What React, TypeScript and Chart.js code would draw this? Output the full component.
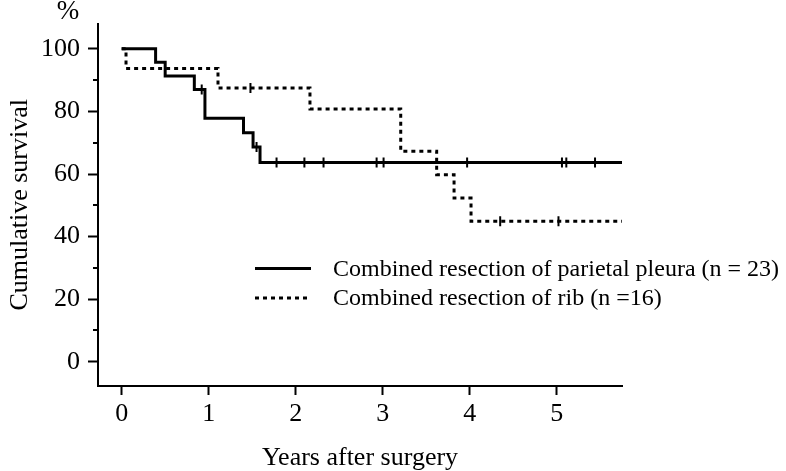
import React, { useEffect, useRef } from 'react';
import { Chart, registerables } from 'chart.js';

Chart.register(...registerables);

// ---- data ----
const xTickValues = [0, 1, 2, 3, 4, 5];
const yTickValues = [0, 20, 40, 60, 80, 100];
const yMinorTickValues = [10, 30, 50, 70, 90];

const legendLabels = [
  'Combined resection of parietal pleura (n = 23)',
  'Combined resection of rib (n =16)',
];

// Kaplan-Meier steps: parietal pleura
const pleuraTimes = [0, 0.39, 0.5, 0.835, 0.957, 1.4, 1.51, 1.59, 5.75];
const pleuraSurvival = [100, 95.7, 91.3, 87.0, 77.8, 73.2, 68.6, 63.7, 63.7];
const pleuraCensorTimes = [0.92, 1.55, 1.78, 2.1, 2.32, 2.93, 3.01, 3.97, 5.06, 5.11, 5.44];

// Kaplan-Meier steps: rib
const ribTimes = [0, 0.05, 1.107, 2.164, 3.207, 3.62, 3.82, 4.015, 5.75];
const ribSurvival = [100, 93.75, 87.5, 80.8, 67.3, 59.8, 52.3, 44.9, 44.9];
const ribCensorTimes = [1.48, 4.35, 5.02];

const FONT = '"Liberation Serif", "Times New Roman", serif';

function survivalAt(times: number[], surv: number[], t: number): number {
  let v = surv[0];
  for (let i = 0; i < times.length; i++) {
    if (times[i] <= t) v = surv[i];
  }
  return v;
}

function toPoints(xs: number[], ys: number[]) {
  return xs.map((x, i) => ({ x, y: ys[i] }));
}

const decorPlugin = {
  id: 'decor',
  afterDraw(chart: any) {
    const ctx = chart.ctx as CanvasRenderingContext2D;
    const yScale = chart.scales.y;
    ctx.save();
    // minor y ticks
    ctx.strokeStyle = '#000';
    ctx.lineWidth = 2;
    yMinorTickValues.forEach((v) => {
      const py = Math.round(yScale.getPixelForValue(v));
      ctx.beginPath();
      ctx.moveTo(yScale.right - 5, py);
      ctx.lineTo(yScale.right, py);
      ctx.stroke();
    });
    // percent sign
    ctx.fillStyle = '#000';
    ctx.font = `27px ${FONT}`;
    ctx.textAlign = 'center';
    ctx.textBaseline = 'alphabetic';
    ctx.fillText('%', 68, 19);

    // legend
    const rows = [268.5, 298];
    const lineX0 = 255;
    const lineX1 = 311;
    const textX = 333;
    ctx.font = `24px ${FONT}`;
    ctx.textAlign = 'left';
    ctx.textBaseline = 'middle';
    legendLabels.forEach((label, i) => {
      const y = rows[i];
      ctx.beginPath();
      ctx.lineWidth = 3;
      ctx.lineCap = 'butt';
      ctx.setLineDash(i === 0 ? [] : [4, 4]);
      ctx.moveTo(lineX0, y);
      ctx.lineTo(lineX1, y);
      ctx.stroke();
      ctx.setLineDash([]);
      ctx.fillText(label, textX, y + 1);
    });
    ctx.restore();
  },
};

export default function App() {
  const canvasRef = useRef<HTMLCanvasElement | null>(null);

  useEffect(() => {
    document.body.style.margin = '0';
    const canvas = canvasRef.current;
    if (!canvas) return;

    const pleuraCensor = pleuraCensorTimes.map((t) => ({
      x: t,
      y: survivalAt(pleuraTimes, pleuraSurvival, t),
    }));
    const ribCensor = ribCensorTimes.map((t) => ({
      x: t,
      y: survivalAt(ribTimes, ribSurvival, t),
    }));

    const tickFont = { family: FONT, size: 26 };

    const chart = new Chart(canvas, {
      type: 'line',
      data: {
        datasets: [
          {
            label: legendLabels[0],
            data: toPoints(pleuraTimes, pleuraSurvival),
            stepped: 'before',
            borderColor: '#000',
            borderWidth: 3,
            pointRadius: 0,
            fill: false,
            borderCapStyle: 'butt',
          },
          {
            label: legendLabels[1],
            data: toPoints(ribTimes, ribSurvival),
            stepped: 'before',
            borderColor: '#000',
            borderWidth: 3,
            borderDash: [4, 4],
            pointRadius: 0,
            fill: false,
            borderCapStyle: 'butt',
          },
          {
            label: 'censored pleura',
            data: pleuraCensor,
            showLine: false,
            pointStyle: 'line',
            rotation: 90,
            pointRadius: 5,
            pointBorderWidth: 2,
            pointBorderColor: '#000',
            borderColor: '#000',
          },
          {
            label: 'censored rib',
            data: ribCensor,
            showLine: false,
            pointStyle: 'line',
            rotation: 90,
            pointRadius: 5,
            pointBorderWidth: 2,
            pointBorderColor: '#000',
            borderColor: '#000',
          },
        ] as any,
      },
      options: {
        animation: false,
        responsive: false,
        maintainAspectRatio: false,
        devicePixelRatio: 1,
        layout: { padding: { top: 23, right: 164, bottom: 0, left: 0 } },
        plugins: {
          legend: { display: false },
          tooltip: { enabled: false },
        },
        scales: {
          x: {
            type: 'linear',
            min: -0.272,
            max: 5.75,
            afterBuildTicks: (scale: any) => {
              scale.ticks = xTickValues.map((v) => ({ value: v }));
            },
            afterFit: (scale: any) => {
              scale.height = 85;
            },
            grid: {
              display: true,
              drawOnChartArea: false,
              drawTicks: true,
              tickLength: 9,
              tickWidth: 2,
              tickColor: '#000',
            },
            border: { display: true, color: '#000', width: 2 },
            ticks: {
              autoSkip: false,
              maxRotation: 0,
              color: '#000',
              font: tickFont,
              padding: 4,
              callback: (v: any) => String(v),
            },
            title: {
              display: true,
              text: 'Years after surgery',
              color: '#000',
              font: { family: FONT, size: 26, lineHeight: 1 },
              padding: { top: 0, bottom: 0 },
            },
          },
          y: {
            type: 'linear',
            min: -7.75,
            max: 108.07,
            afterBuildTicks: (scale: any) => {
              scale.ticks = yTickValues.map((v) => ({ value: v }));
            },
            afterFit: (scale: any) => {
              scale.width = 98;
            },
            grid: {
              display: true,
              drawOnChartArea: false,
              drawTicks: true,
              tickLength: 10,
              tickWidth: 2,
              tickColor: '#000',
            },
            border: { display: true, color: '#000', width: 2 },
            ticks: {
              autoSkip: false,
              color: '#000',
              font: tickFont,
              padding: 8,
              callback: (v: any) => String(v),
            },
            title: {
              display: true,
              text: 'Cumulative survival',
              color: '#000',
              font: { family: FONT, size: 26, lineHeight: 1 },
              padding: { top: 7, bottom: 0 },
            },
          },
        },
      },
      plugins: [decorPlugin],
    } as any);

    return () => {
      chart.destroy();
    };
  }, []);

  return (
    <div style={{ width: 786, height: 471, background: '#fff' }}>
      <canvas ref={canvasRef} width={786} height={471} style={{ width: 786, height: 471, display: 'block' }} />
    </div>
  );
}
